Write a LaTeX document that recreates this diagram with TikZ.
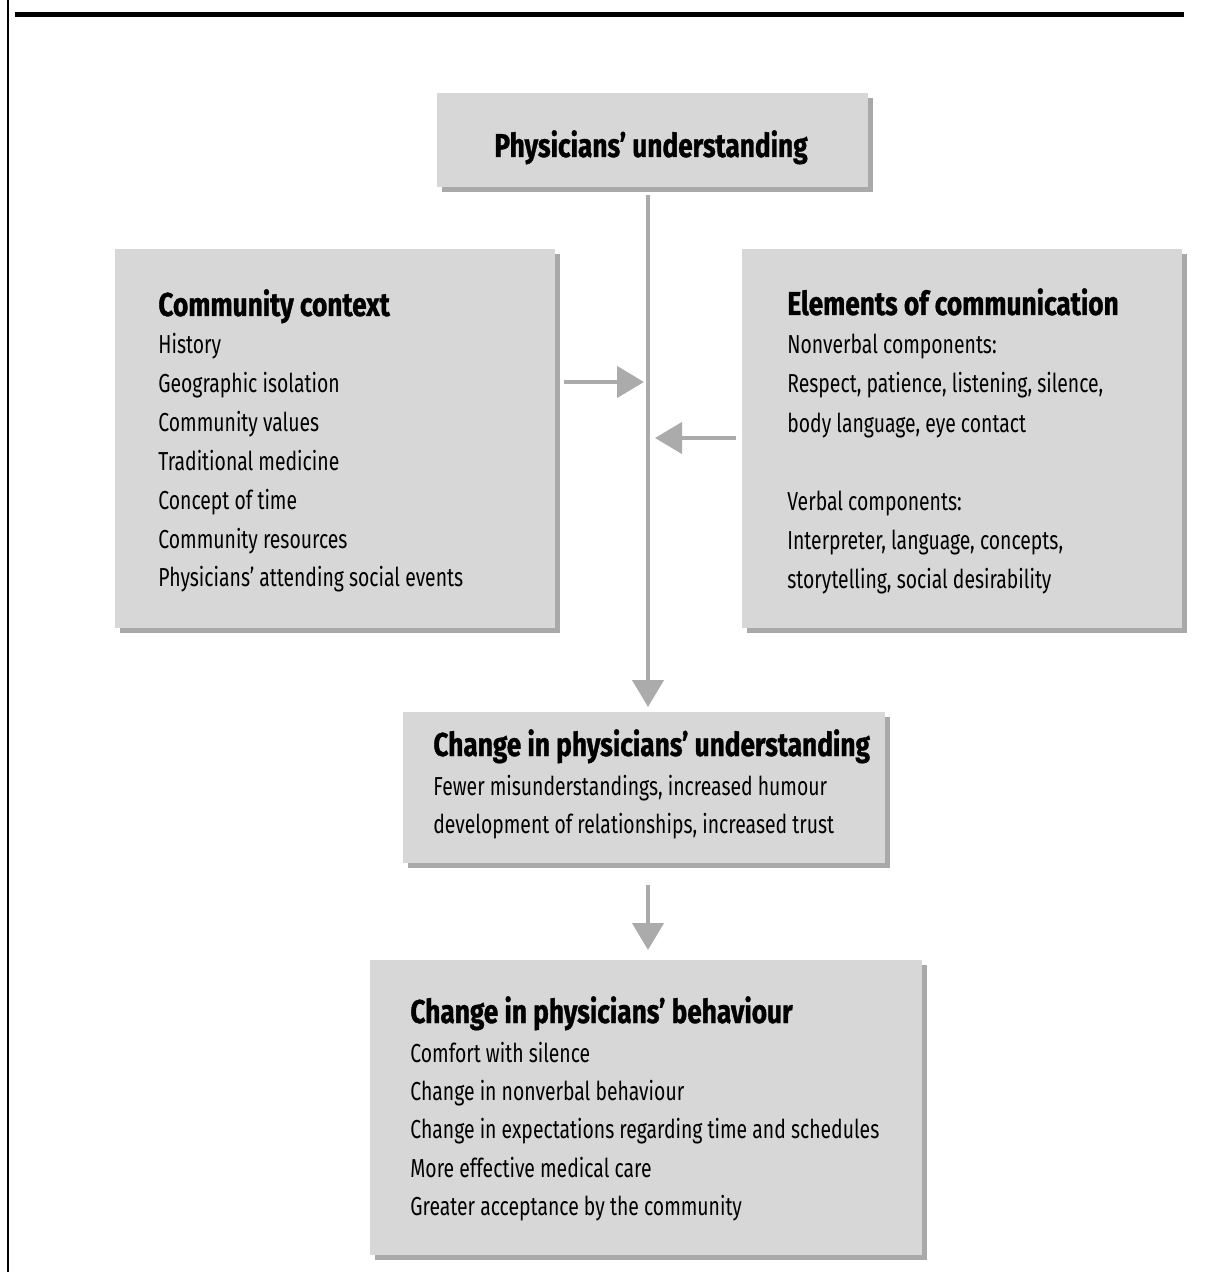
\documentclass[tikz,border=0pt]{standalone}
\usepackage{fontspec}
\setmainfont{Fira Sans}[FakeStretch=0.745, BoldFeatures={FakeStretch=0.795, FakeBold=1}]
\usepackage{tikz}
\usetikzlibrary{positioning,arrows.meta,shadows,fit}
\definecolor{cpanel}{HTML}{D7D7D7}
\definecolor{csombra}{HTML}{A9A9A9}
\definecolor{cflecha}{HTML}{ABABAB}

\begin{document}
\begin{tikzpicture}[x=0.5pt, y=-0.5pt,
  panel/.style={fill=cpanel, inner sep=0pt, outer sep=0pt, drop shadow={shadow xshift=2.5pt, shadow yshift=-2.5pt, fill=csombra, opacity=1}},
  titulo/.style={font=\bfseries\fontsize{16.5}{20}\selectfont, inner sep=0pt, anchor=base west},
  item/.style={font=\fontsize{13}{16}\selectfont, inner sep=0pt, anchor=base west},
  flecha/.style={draw=cflecha, line width=2.2pt, -{Triangle[length=13.5pt, width=15.5pt]}}]
  \useasboundingbox (0,0) rectangle (1221,1272);
  \draw[line width=0.7pt] (8,0) -- (8,1272);
  \draw[line width=2.6pt] (15,14.5) -- (1184,14.5);

  \node[panel, fit={(437,93) (868,187)}] (base) {};
  \node[panel, fit={(115,249) (555,628)}] (ctx) {};
  \node[panel, fit={(742,249) (1182,628)}] (com) {};
  \node[panel, fit={(403,712) (885,863)}] (cambio) {};
  \node[panel, fit={(370,960) (922,1255)}] (conducta) {};

  \node[titulo, anchor=base] (base-t) at (651,157) {Physicians’ understanding};

  \node[titulo] (ctx-t) at (158,316) {Community context};
  \foreach \txt [count=\i] in {History, Geographic isolation, Community values, Traditional medicine, Concept of time, Community resources, Physicians’ attending social events}
    \node[item] (ctx-\i) at (158,{354+38.8*(\i-1)}) {\txt};

  \node[titulo] (com-t) at (787,315) {Elements of communication};
  \foreach \txt/\k in {Nonverbal components:/0, {Respect, patience, listening, silence,}/1, {body language, eye contact}/2, Verbal components:/4, {Interpreter, language, concepts,}/5, {storytelling, social desirability}/6}
    \node[item] (com-\k) at (787,{354+39*\k}) {\txt};

  \node[titulo] (cambio-t) at (433,756) {Change in physicians’ understanding};
  \node[item] (cambio-1) at (433,795) {Fewer misunderstandings, increased humour};
  \node[item] (cambio-2) at (433,833) {development of relationships, increased trust};

  \node[titulo] (conducta-t) at (410,1023) {Change in physicians’ behaviour};
  \foreach \txt [count=\i] in {Comfort with silence, Change in nonverbal behaviour, Change in expectations regarding time and schedules, More effective medical care, Greater acceptance by the community}
    \node[item] (conducta-\i) at (410,{1062+38.4*(\i-1)}) {\txt};

  \coordinate (eje) at (648,0);
  \coordinate (e1) at (648,382);
  \coordinate (e2) at (648,438);
  \draw[flecha, shorten <=4pt, shorten >=2.5pt] (base.south -| eje) -- (cambio.north -| eje);
  \draw[flecha, shorten <=4.5pt, shorten >=2pt] (ctx.east |- e1) -- (e1);
  \draw[flecha, shorten <=3pt, shorten >=3.5pt] (com.west |- e2) -- (e2);
  \draw[flecha, shorten <=11pt, shorten >=5pt] (cambio.south -| eje) -- (conducta.north -| eje);
\end{tikzpicture}
\end{document}
